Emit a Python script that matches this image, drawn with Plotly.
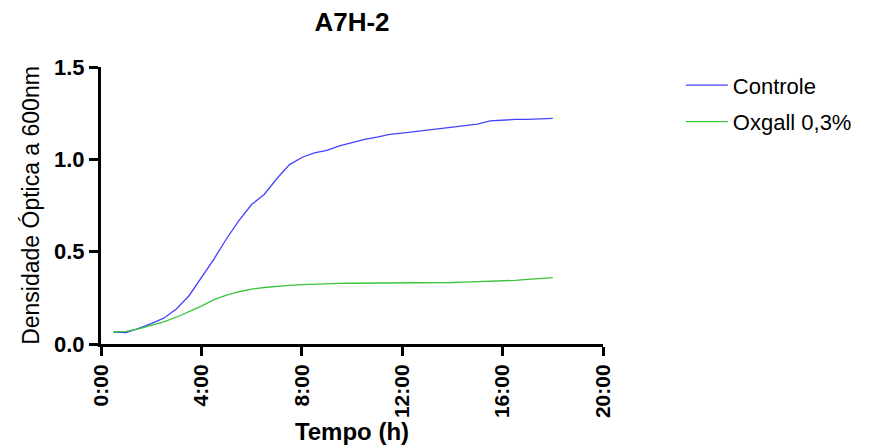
import plotly.graph_objects as go

# Time points (hours) and optical density readings
tempo_h = [0.5, 1.0, 1.5, 2.0, 2.5, 3.0, 3.5, 4.0, 4.5, 5.0, 5.5, 6.0, 6.5, 7.0,
           7.5, 8.0, 8.5, 9.0, 9.5, 10.0, 10.5, 11.0, 11.5, 12.0, 12.5, 13.0,
           13.5, 14.0, 14.5, 15.0, 15.5, 16.0, 16.5, 17.0, 17.5, 18.0]

controle = [0.065, 0.062, 0.085, 0.110, 0.140, 0.190, 0.260, 0.360, 0.460, 0.570,
            0.670, 0.755, 0.810, 0.895, 0.970, 1.010, 1.035, 1.048, 1.073, 1.090,
            1.108, 1.120, 1.135, 1.142, 1.150, 1.158, 1.167, 1.175, 1.183, 1.191,
            1.208, 1.213, 1.216, 1.216, 1.218, 1.222]

oxgall = [0.065, 0.068, 0.082, 0.100, 0.120, 0.145, 0.175, 0.205, 0.240, 0.265,
          0.283, 0.297, 0.306, 0.313, 0.318, 0.322, 0.325, 0.327, 0.328, 0.329,
          0.329, 0.329, 0.329, 0.329, 0.329, 0.330, 0.331, 0.333, 0.335, 0.337,
          0.339, 0.342, 0.345, 0.350, 0.354, 0.359]

x_ticks = [0, 4, 8, 12, 16, 20]
x_tick_labels = ["0:00", "4:00", "8:00", "12:00", "16:00", "20:00"]
y_ticks = [0.0, 0.5, 1.0, 1.5]
y_tick_labels = ["0.0", "0.5", "1.0", "1.5"]

FONT = "Liberation Sans, Arial, sans-serif"

fig = go.Figure()
fig.add_trace(go.Scatter(x=tempo_h, y=controle, mode="lines", name="Controle",
                         legendgroup="a",
                         line=dict(color="#4343ff", width=1.3)))
fig.add_trace(go.Scatter(x=tempo_h, y=oxgall, mode="lines", name="Oxgall 0,3%",
                         legendgroup="b",
                         line=dict(color="#3cc43c", width=1.3)))

fig.update_layout(
    width=881, height=446,
    margin=dict(l=101, r=278, t=67, b=102, autoexpand=False),
    paper_bgcolor="white", plot_bgcolor="white",
    title=dict(text="<b>A7H-2</b>", x=352 / 881, xanchor="center",
               y=1 - 22 / 446, yanchor="middle",
               font=dict(family=FONT, size=26, color="black")),
    font=dict(family=FONT, color="black"),
    legend=dict(x=1.155, y=1.01, xanchor="left", yanchor="top",
                font=dict(family=FONT, size=22, color="black"),
                tracegroupgap=5, itemwidth=42, bgcolor="rgba(0,0,0,0)"),
    showlegend=True,
)

fig.update_xaxes(
    range=[0, 20], tickvals=x_ticks, ticktext=x_tick_labels, tickangle=-90,
    automargin=False,
    showgrid=False, zeroline=False, showline=True, linecolor="black", linewidth=3,
    ticks="outside", ticklen=9, tickwidth=3, tickcolor="black",
    tickfont=dict(family=FONT, size=21, color="black", weight="bold"),
    title=dict(text="<b>Tempo (h)</b>", font=dict(family=FONT, size=24, color="black"),
               standoff=6),
)
fig.update_yaxes(
    range=[0, 1.5], tickvals=y_ticks, ticktext=y_tick_labels,
    automargin=False,
    showgrid=False, zeroline=False, showline=True, linecolor="black", linewidth=3,
    ticks="outside", ticklen=9, tickwidth=3, tickcolor="black",
    tickfont=dict(family=FONT, size=22, color="black", weight="bold"),
    title=dict(text="Densidade Óptica a 600nm", font=dict(family=FONT, size=23, color="black"),
               standoff=8),
)

fig.write_html("out.html")
